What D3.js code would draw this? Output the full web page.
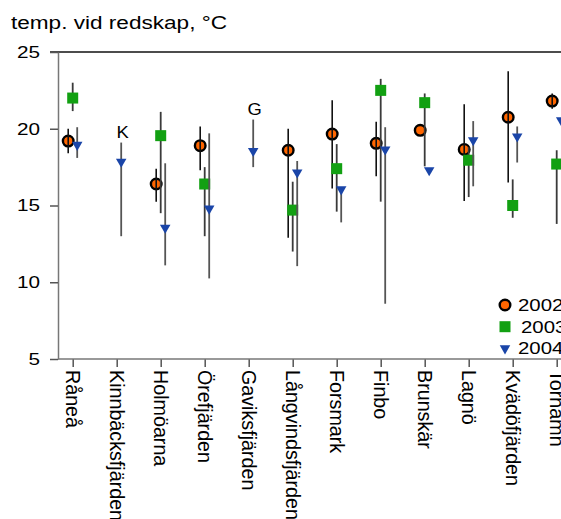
<!DOCTYPE html>
<html>
<head>
<meta charset="utf-8">
<script src="https://cdn.jsdelivr.net/npm/d3@7"></script>
<style>
  html, body { margin: 0; padding: 0; background: #fff; }
  svg { display: block; }
  text { font-family: "Liberation Sans", Arial, Helvetica, sans-serif; fill: #000; }
</style>
</head>
<body>
<svg id="chart" width="561" height="519"></svg>
<script>
// Sampling stations along the coast
const categories = ["Råneå", "Kinnbäcksfjärden", "Holmöarna", "Örefjärden", "Gaviksfjärden",
  "Långvindsfjärden", "Forsmark", "Finbo", "Brunskär", "Lagnö", "Kvädöfjärden", "Torhamn"];

// Mean temperature at the gear (°C) per year, with min/max range
const mean2002 = [19.2, null, 16.4, 18.9, null, 18.6, 19.65, 19.05, 19.9, 18.65, 20.75, 21.8];
const low2002  = [18.4, null, 15.25, 17.3, null, 12.9, 16.1, 16.9, null, 15.3, 16.5, 21.3];
const high2002 = [20.0, null, 17.4, 20.15, null, 20.0, 21.85, 20.45, null, 21.6, 23.75, 22.3];

const mean2003 = [22.0, null, 19.55, 16.4, null, 14.7, 17.4, 22.5, 21.7, 17.95, 15.0, 17.7];
const low2003  = [21.15, null, 14.5, 13.0, null, 12.0, 14.6, 15.25, 17.55, 15.55, 14.2, 13.8];
const high2003 = [23.0, null, 21.1, 17.5, null, 16.55, 19.0, 23.25, 22.3, 18.8, 16.7, 18.6];

const mean2004 = [18.95, 17.85, 13.55, 14.8, 18.55, 17.15, 16.05, 18.65, 17.3, 19.25, 19.5, 20.55];
const low2004  = [18.1, 13.0, 11.1, 10.25, 17.5, 11.05, 13.9, 8.6, null, 16.25, 17.8, null];
const high2004 = [20.1, 19.1, 17.75, 19.7, 20.6, 17.9, 16.2, 20.1, null, 20.5, 20.15, null];

const yTicks = [5, 10, 15, 20, 25];
const years = ["2002", "2003", "2004"];

// Letters noted above single-year stations
const noteStations = ["Kinnbäcksfjärden", "Gaviksfjärden"];
const noteTexts = ["K", "G"];

const svg = d3.select("#chart");

const x = d3.scalePoint().domain(categories).range([72.7, 556.7]);
const y = d3.scaleLinear().domain([5, 25]).range([359, 52]);

const offset = { "2002": -4.5, "2003": 0, "2004": 4.5 };

function rows(means, lows, highs) {
  return categories.map((c, i) => ({ cat: c, mean: means[i], low: lows[i], high: highs[i] }))
    .filter(d => d.mean !== null);
}
const s2002 = rows(mean2002, low2002, high2002);
const s2003 = rows(mean2003, low2003, high2003);
const s2004 = rows(mean2004, low2004, high2004);

// Title
svg.append("text")
  .attr("x", 11).attr("y", 29)
  .attr("font-size", 17.5)
  .attr("textLength", 216).attr("lengthAdjust", "spacingAndGlyphs")
  .text("temp. vid redskap, °C");

// Top frame line at 25
svg.append("line")
  .attr("x1", 50).attr("x2", 561)
  .attr("y1", y(25)).attr("y2", y(25))
  .attr("stroke", "#111").attr("stroke-width", 1.5);

// Y axis
const yAxis = svg.append("g")
  .attr("transform", "translate(58,0)")
  .call(d3.axisLeft(y).tickValues(yTicks).tickSize(8).tickSizeOuter(0).tickPadding(10));
yAxis.select(".domain").attr("stroke", "#777").attr("stroke-width", 1.5);
yAxis.selectAll(".tick line").attr("stroke", "#555").attr("stroke-width", 1.5);
yAxis.selectAll(".tick text")
  .attr("font-size", 17)
  .attr("fill", "#000")
  .attr("x", -18 / 1.22)
  .attr("transform", "scale(1.22,1)");

// X axis
const xAxis = svg.append("g")
  .attr("transform", "translate(0,359)")
  .call(d3.axisBottom(x).tickSize(8).tickSizeOuter(0));
xAxis.select(".domain").remove();
xAxis.append("line")
  .attr("x1", 58).attr("x2", 561)
  .attr("stroke", "#777").attr("stroke-width", 1.5);
xAxis.selectAll(".tick line").attr("stroke", "#555").attr("stroke-width", 1.5);
xAxis.selectAll(".tick text")
  .attr("font-size", 19.7)
  .attr("fill", "#000")
  .attr("transform", "rotate(90)")
  .attr("x", 11).attr("y", 0).attr("dy", "0.35em")
  .attr("text-anchor", "start");

const plot = svg.append("g");

function rangeLines(data, year, color, width) {
  plot.append("g").selectAll("line")
    .data(data.filter(d => d.low !== null))
    .join("line")
    .attr("x1", d => x(d.cat) + offset[year]).attr("x2", d => x(d.cat) + offset[year])
    .attr("y1", d => y(d.high)).attr("y2", d => y(d.low))
    .attr("stroke", color).attr("stroke-width", width);
}

const circleFill = "#ff6600", squareFill = "#12a012", triFill = "#1a45a8";
const tri = d3.symbol().type(d3.symbolTriangle).size(48);

// 2002: circles, range line drawn over them
plot.append("g").selectAll("circle")
  .data(s2002).join("circle")
  .attr("cx", d => x(d.cat) + offset["2002"]).attr("cy", d => y(d.mean))
  .attr("r", 5.3)
  .attr("fill", circleFill).attr("stroke", "#000").attr("stroke-width", 2.4);
rangeLines(s2002, "2002", "#111", 1.6);

// 2003: squares
rangeLines(s2003, "2003", "#3a3a3a", 1.8);
plot.append("g").selectAll("rect")
  .data(s2003).join("rect")
  .attr("x", d => x(d.cat) + offset["2003"] - 5.5).attr("y", d => y(d.mean) - 5.5)
  .attr("width", 11).attr("height", 11)
  .attr("fill", squareFill);

// 2004: downward triangles
rangeLines(s2004, "2004", "#555", 1.8);
plot.append("g").selectAll("path")
  .data(s2004).join("path")
  .attr("d", tri)
  .attr("transform", d => `translate(${x(d.cat) + offset["2004"]},${y(d.mean)}) rotate(180)`)
  .attr("fill", triFill);

// Station letters above the 2004 range
svg.append("g").selectAll("text")
  .data(noteStations.map((s, i) => ({ cat: s, text: noteTexts[i], high: high2004[categories.indexOf(s)] })))
  .join("text")
  .attr("x", d => (x(d.cat) + offset["2004"] + 1.5) / 1.15)
  .attr("y", d => y(d.high) - 5)
  .attr("transform", "scale(1.15,1)")
  .attr("text-anchor", "middle")
  .attr("font-size", 16)
  .text(d => d.text);

// Legend
const legend = svg.append("g").attr("transform", "translate(505,305)");
const rowH = 21.7;
legend.append("circle").attr("cx", 0).attr("cy", 0).attr("r", 5.3)
  .attr("fill", circleFill).attr("stroke", "#000").attr("stroke-width", 2.4);
legend.append("rect").attr("x", -5.5).attr("y", rowH - 5.5).attr("width", 11).attr("height", 11)
  .attr("fill", squareFill);
legend.append("path").attr("d", tri)
  .attr("transform", `translate(0,${2 * rowH}) rotate(180)`).attr("fill", triFill);
legend.selectAll("text.lab")
  .data(years).join("text")
  .attr("class", "lab")
  .attr("x", (d, i) => (i === 1 ? 16 : 13) / 1.2)
  .attr("y", (d, i) => i * rowH)
  .attr("dy", "0.35em")
  .attr("transform", "scale(1.2,1)")
  .attr("font-size", 17)
  .text(d => d);
</script>
</body>
</html>
